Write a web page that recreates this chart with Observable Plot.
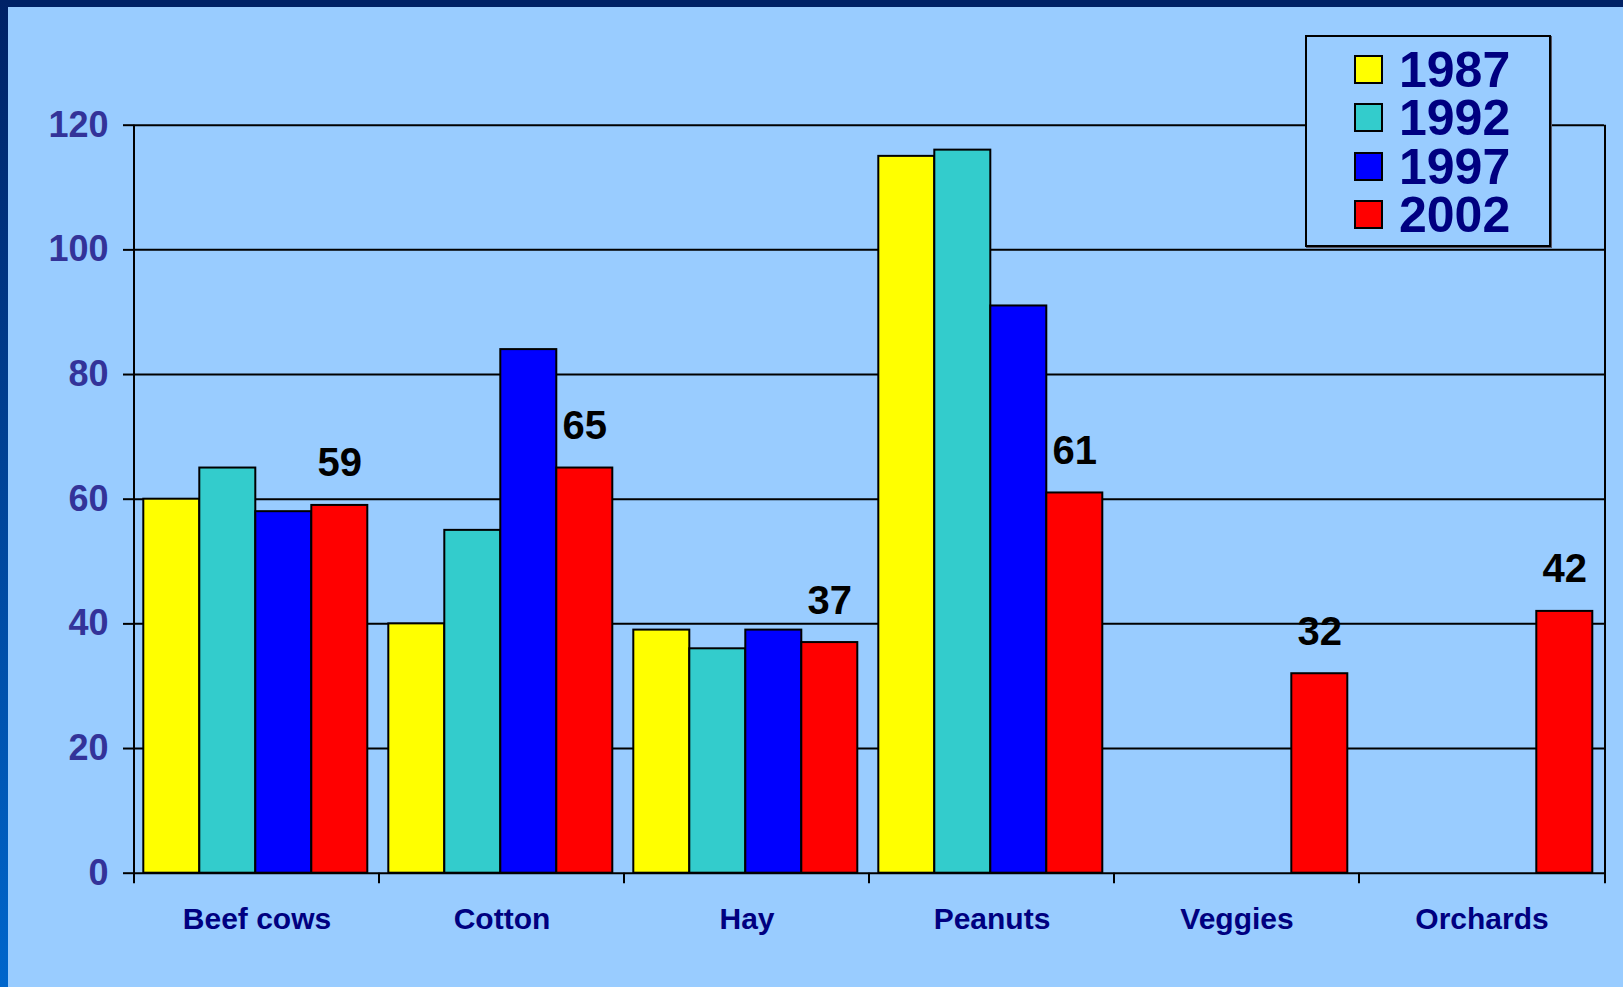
<!DOCTYPE html>
<html>
<head>
<meta charset="utf-8">
<script src="https://cdn.jsdelivr.net/npm/d3@7"></script>
<script src="https://cdn.jsdelivr.net/npm/@observablehq/plot@0.6"></script>
<style>
  html, body { margin: 0; padding: 0; background: #99ccff; overflow: hidden; }
  #wrap { position: relative; width: 1623px; height: 987px; background: #99ccff; font-family: "Liberation Sans", Arial, sans-serif; }
  #wrap svg { position: absolute; left: 0; top: 0; }
  #topband { position: absolute; left: 0; top: 0; width: 1623px; height: 7px; background: #002266; z-index: 3; }
  #leftband { position: absolute; left: 0; top: 0; width: 8px; height: 987px; background: linear-gradient(#002266, #0066cc); z-index: 3; }
  #legend { position: absolute; left: 1305px; top: 35px; width: 242px; height: 208px; border: 2px solid #000; background: #99ccff; z-index: 2; box-shadow: 1px 1px 0 #556; }
  .sw { position: absolute; left: 47px; width: 29px; height: 29px; box-sizing: border-box; border: 2px solid #000; }
  .lt { position: absolute; left: 92px; font-size: 50px; line-height: 48px; height: 48px; font-weight: bold; color: #000080; font-family: "Liberation Sans", Arial, sans-serif; }
</style>
</head>
<body>
<div id="wrap">
  <div id="topband"></div>
  <div id="leftband"></div>
  <div id="legend"></div>
</div>
<script>
const categories = ["Beef cows", "Cotton", "Hay", "Peanuts", "Veggies", "Orchards"];
const years = ["1987", "1992", "1997", "2002"];
const yearColors = ["#ffff00", "#33cccc", "#0000ff", "#ff0000"];
const values1987 = [60, 40, 39, 115, null, null];
const values1992 = [65, 55, 36, 116, null, null];
const values1997 = [58, 84, 39, 91, null, null];
const values2002 = [59, 65, 37, 61, 32, 42];
const yTicks = [0, 20, 40, 60, 80, 100, 120];

const series = [values1987, values1992, values1997, values2002];
const rows = [];
years.forEach((yr, j) => {
  series[j].forEach((v, i) => {
    if (v != null) rows.push({category: categories[i], year: yr, value: v});
  });
});
const labelRows = rows.filter(d => d.year === "2002");

const font = '"Liberation Sans", Arial, sans-serif';

const plot = Plot.plot({
  width: 1623,
  height: 987,
  marginLeft: 132.7,
  marginRight: 18,
  marginTop: 124.7,
  marginBottom: 114.3,
  style: {background: "transparent", fontFamily: font, overflow: "visible"},
  fx: {domain: categories, padding: 0, label: null},
  x: {domain: years, paddingInner: 0, paddingOuter: 0.164, align: 0.43, axis: null},
  y: {domain: [0, 120], axis: null},
  color: {domain: years, range: yearColors},
  marks: [
    Plot.gridY(yTicks, {stroke: "black", strokeOpacity: 1, strokeWidth: 2}),
    Plot.barY(rows, {fx: "category", x: "year", y: "value", fill: "year", stroke: "black", strokeWidth: 2}),
    Plot.text(labelRows, {fx: "category", x: "year", y: "value", text: d => String(d.value), dy: -29, lineAnchor: "bottom", fontSize: 40, fontWeight: "bold", fill: "black"}),
    Plot.axisY(yTicks, {tickSize: 11, tickPadding: 15, fontSize: 36, fontWeight: "bold", fill: "#333399", stroke: "black", strokeWidth: 2, label: null}),
    Plot.axisFx({anchor: "bottom", tickSize: 0, tickPadding: 34, fontSize: 30, fontWeight: "bold", fill: "#000080", label: null})
  ]
});

document.getElementById("wrap").appendChild(plot);

// Axis frame lines and category boundary ticks, from the plot's own scales
const fxs = plot.scale("fx");
const ys = plot.scale("y");
const y0 = ys.apply(0), yTop = ys.apply(120);
const bounds = categories.map(c => fxs.apply(c));
bounds.push(fxs.range[1]);
const g = d3.select(plot).append("g").attr("stroke", "black").attr("stroke-width", 2);
bounds.forEach((bx, i) => {
  const edge = i === 0 || i === bounds.length - 1;
  g.append("line")
    .attr("x1", bx).attr("x2", bx)
    .attr("y1", edge ? yTop : y0).attr("y2", y0 + 10.5);
});

// Legend
const legend = document.getElementById("legend");
years.forEach((yr, i) => {
  const sw = document.createElement("div");
  sw.className = "sw";
  sw.style.top = (18 + 48.4 * i) + "px";
  sw.style.background = yearColors[i];
  legend.appendChild(sw);
  const t = document.createElement("div");
  t.className = "lt";
  t.style.top = (9 + 48.4 * i) + "px";
  t.textContent = yr;
  legend.appendChild(t);
});
</script>
</body>
</html>
